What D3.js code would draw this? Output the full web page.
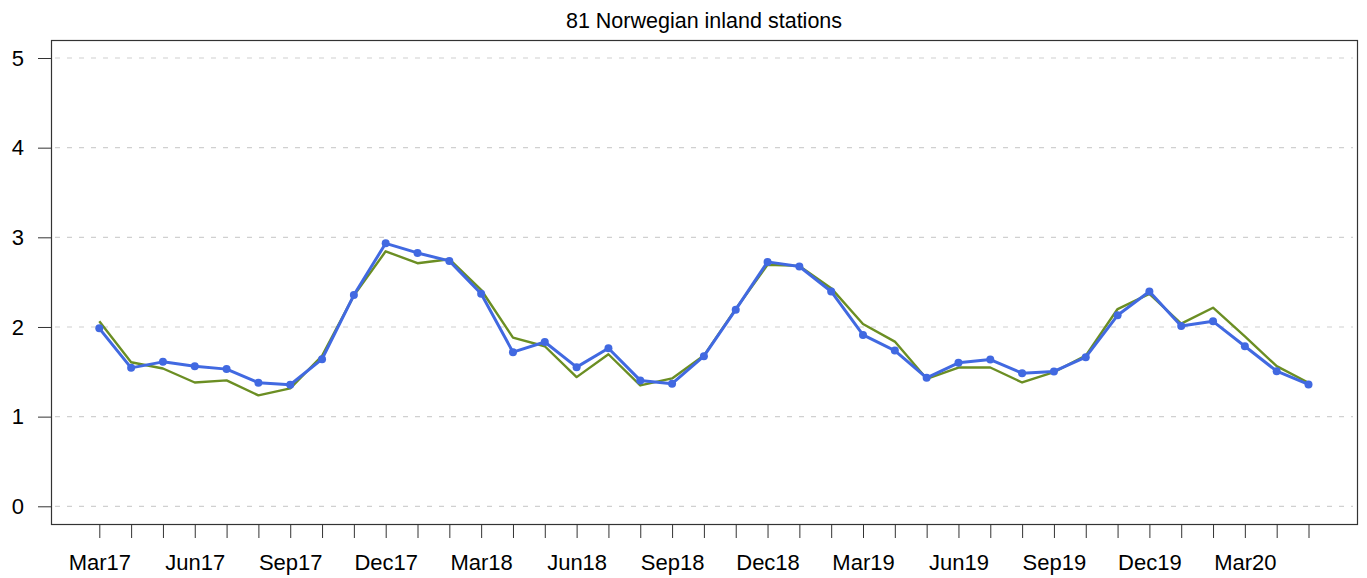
<!DOCTYPE html>
<html><head><meta charset="utf-8">
<script src="https://cdn.jsdelivr.net/npm/d3@7"></script>
<style>body{margin:0;background:#fff}svg{display:block}text{font-family:"Liberation Sans",Arial,Helvetica,sans-serif}</style>
</head><body><svg id="c" width="1367" height="578"></svg>
<script>
const title = "81 Norwegian inland stations";
const months = ["Mar17","Apr17","May17","Jun17","Jul17","Aug17","Sep17","Oct17","Nov17","Dec17","Jan18","Feb18",
 "Mar18","Apr18","May18","Jun18","Jul18","Aug18","Sep18","Oct18","Nov18","Dec18","Jan19","Feb19",
 "Mar19","Apr19","May19","Jun19","Jul19","Aug19","Sep19","Oct19","Nov19","Dec19","Jan20","Feb20",
 "Mar20","Apr20","May20"];
const blueSeries = [1.985,1.544,1.611,1.563,1.530,1.378,1.356,1.641,2.356,2.933,2.826,2.737,
 2.370,1.719,1.833,1.552,1.763,1.404,1.367,1.674,2.193,2.726,2.674,2.396,
 1.911,1.737,1.433,1.600,1.637,1.485,1.504,1.663,2.130,2.396,2.011,2.063,
 1.785,1.507,1.359];
const greenSeries = [2.063,1.607,1.537,1.381,1.404,1.237,1.315,1.678,2.350,2.844,2.711,2.756,
 2.415,1.881,1.785,1.441,1.696,1.348,1.426,1.681,2.200,2.693,2.681,2.433,
 2.033,1.837,1.422,1.548,1.548,1.381,1.496,1.681,2.200,2.370,2.037,2.215,
 1.896,1.563,1.378];
const yTicks = [0,1,2,3,4,5];
const xLabelMonths = ["Mar17","Jun17","Sep17","Dec17","Mar18","Jun18","Sep18","Dec18","Mar19","Jun19","Sep19","Dec19","Mar20"];

const svg = d3.select("#c");
const box = {l:51, r:1357, t:40, b:524};
const x = d3.scalePoint().domain(months).range([99.3, 1308.5]);
const y = d3.scaleLinear().domain([0,5]).range([506.3, 58]);

// gridlines
svg.append("g").selectAll("line").data(yTicks).join("line")
  .attr("x1", box.l+4).attr("x2", box.r-4)
  .attr("y1", d=>y(d)).attr("y2", d=>y(d))
  .attr("stroke","#d0d0d0").attr("stroke-width",1.2).attr("stroke-dasharray","5,7");

// box
svg.append("rect").attr("x",box.l+0.5).attr("y",box.t+0.5)
  .attr("width",box.r-box.l).attr("height",box.b-box.t)
  .attr("fill","none").attr("stroke","#333").attr("stroke-width",1.2);

// y axis
const yAxis = d3.axisLeft(y).tickValues(yTicks).tickSize(13).tickPadding(14).tickFormat(d3.format("d"));
const gy = svg.append("g").attr("transform",`translate(${box.l},0)`).call(yAxis);
gy.select(".domain").remove();
gy.selectAll(".tick line").attr("stroke","#333");
gy.selectAll("text").attr("font-size",22).attr("fill","#000").style("font-family","'Liberation Sans',Arial,sans-serif");

// x axis
const xAxis = d3.axisBottom(x).tickSize(14).tickPadding(16)
  .tickFormat(d => xLabelMonths.includes(d) ? d : "");
const gx = svg.append("g").attr("transform",`translate(0,${box.b})`).call(xAxis);
gx.select(".domain").remove();
gx.selectAll(".tick line").attr("stroke","#333");
gx.selectAll("text").attr("font-size",22).attr("fill","#000").style("font-family","'Liberation Sans',Arial,sans-serif");

// green line
const line = d3.line().x((d,i)=>x(months[i])).y(d=>y(d));
svg.append("path").datum(greenSeries).attr("d",line)
  .attr("fill","none").attr("stroke","#6B8E23").attr("stroke-width",2.4).attr("stroke-linejoin","round");
// blue line
svg.append("path").datum(blueSeries).attr("d",line)
  .attr("fill","none").attr("stroke","#4169E1").attr("stroke-width",3).attr("stroke-linejoin","round");
svg.append("g").selectAll("circle").data(blueSeries).join("circle")
  .attr("cx",(d,i)=>x(months[i])).attr("cy",d=>y(d)).attr("r",4).attr("fill","#4169E1");

// title
svg.append("text").attr("x",(box.l+box.r)/2).attr("y",28).attr("text-anchor","middle")
  .attr("font-size",21.5).attr("fill","#000").text(title);
</script></body></html>
